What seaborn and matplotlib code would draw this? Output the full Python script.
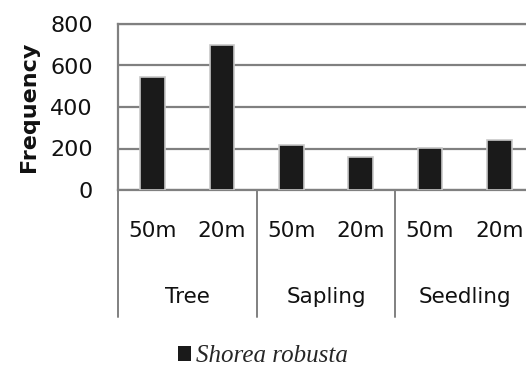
import matplotlib
matplotlib.use("Agg")
import matplotlib.pyplot as plt
import seaborn as sns
import pandas as pd

# Plot sizes within each life stage and their observed frequencies
stages = ["Tree", "Sapling", "Seedling"]
plot_sizes = ["50m", "20m"]
frequency = [545, 700, 217, 159, 202, 241]
species = "Shorea robusta"

rows = []
i = 0
for stage in stages:
    for size in plot_sizes:
        rows.append({"bar": f"{stage} {size}", "size": size,
                     "Frequency": frequency[i], "species": species})
        i += 1
df = pd.DataFrame(rows)

sns.set_theme(style="white")
plt.rcParams["font.family"] = ["DejaVu Sans"]

fig = plt.figure(figsize=(5.26, 3.67), dpi=100)
ax = fig.add_axes([118 / 526, 177 / 367, 416 / 526, 166 / 367])

sns.barplot(data=df, x="bar", y="Frequency", hue="species",
            palette=["#1a1a1a"], width=0.36, edgecolor="#c8c8c8",
            linewidth=1.2, ax=ax, zorder=3)

ax.set_ylim(0, 800)
ax.set_xlim(-0.5, 5.5)
ax.set_yticks([0, 200, 400, 600, 800])
ax.yaxis.grid(True, color="#808080", linewidth=1.6, zorder=0)
ax.set_axisbelow(True)

for side in ["left", "top", "bottom"]:
    ax.spines[side].set_color("#808080")
    ax.spines[side].set_linewidth(1.6)
ax.spines["right"].set_visible(False)

ax.tick_params(axis="y", length=0, pad=18, labelsize=16, labelcolor="#111111")
ax.set_xticks(range(len(df)))
ax.set_xticklabels(df["size"])
ax.tick_params(axis="x", length=0, pad=22, labelsize=15.5, labelcolor="#111111")
ax.set_xlabel("")

ax.set_ylabel("Frequency", fontsize=16, fontweight="bold", color="#111111")
ax.yaxis.set_label_coords(-0.19, 0.5)

# Group separators and stage names below the axis
trans = ax.get_xaxis_transform()
for xb in [-0.5, 1.5, 3.5, 5.5]:
    ax.plot([xb, xb], [0, -0.765], transform=trans, color="#808080",
            linewidth=1.4, clip_on=False)
for k, stage in enumerate(stages):
    ax.text(2 * k + 0.5, -0.645, stage, transform=trans, ha="center",
            va="center", fontsize=15.5, color="#111111")

sns.move_legend(ax, loc="center", bbox_to_anchor=(0.5, 0.03),
                bbox_transform=fig.transFigure, frameon=False, title=None,
                prop={"family": "Liberation Serif", "style": "italic", "size": 18},
                handlelength=0.55, handleheight=0.55, handletextpad=0.2)
for h in ax.get_legend().legend_handles:
    h.set_edgecolor("none")

fig.savefig("out.png", dpi=100)
